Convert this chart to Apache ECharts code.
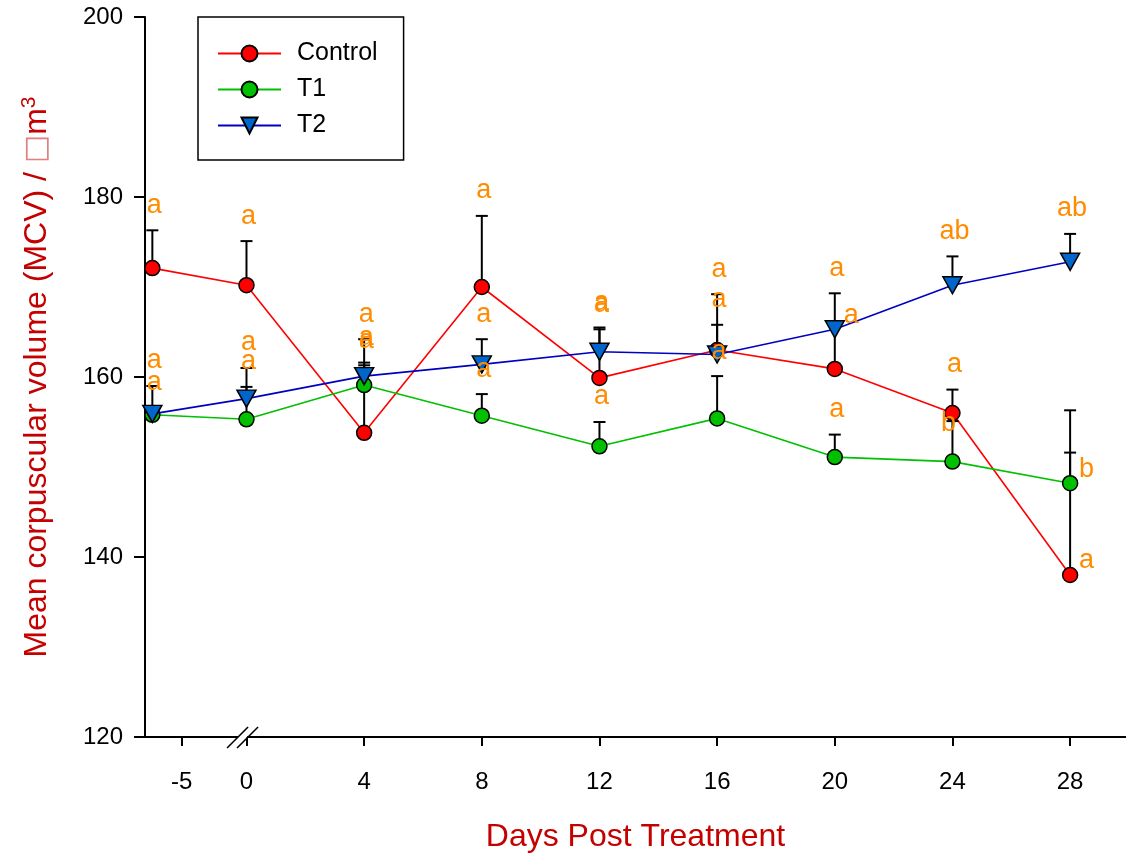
<!DOCTYPE html>
<html>
<head>
<meta charset="utf-8">
<script src="https://cdn.jsdelivr.net/npm/echarts@6/dist/echarts.min.js"></script>
<style>
html,body{margin:0;padding:0;background:#fff;}
#chart{width:1126px;height:858px;}
</style>
</head>
<body>
<div id="chart"></div>
<script>
// ---- data ----
const days = [-6, 0, 4, 8, 12, 16, 20, 24, 28];
const tickDays = [-5, 0, 4, 8, 12, 16, 20, 24, 28];
const tickLabels = ['-5', '0', '4', '8', '12', '16', '20', '24', '28'];
const yTicks = [120, 140, 160, 180, 200];

const control   = [172.1, 170.2, 153.8, 170.0, 159.9, 163.0, 160.9, 156.0, 138.0];
const controlSD = [4.2, 4.9, 7.8, 7.9, 5.6, 6.2, 8.4, 2.6, 18.3];
const t1        = [155.8, 155.3, 159.1, 155.7, 152.3, 155.4, 151.1, 150.6, 148.2];
const t1SD      = [0.8, 3.6, 5.1, 2.4, 2.7, 4.7, 2.5, 4.5, 3.4];
const t2        = [155.9, 157.6, 160.1, 161.4, 162.8, 162.5, 165.3, 170.2, 172.8];
const t2SD      = [3.1, 3.4, 1.2, 2.8, 2.5, 3.3, 0.8, 3.2, 3.1];

const controlLetters = ['a','a','a','a','a','a','a','a','a'];
const t1Letters      = ['a','a','a','a','a','a','a','b','b'];
const t2Letters      = ['a','a','a','a','a','a','a','ab','ab'];
const controlLetterPlace = ['top','top','top','top','top','top','top','top','right'];
const t1LetterPlace      = ['top','top','top','top','top','top','top','cap','right'];
const t2LetterPlace      = ['top','top','top','top','top','top','right','top','top'];

// ---- broken axis: days before 0 are shifted toward 0 ----
const BREAK_SHIFT = 2.8;
const dayPos = d => (d >= 0 ? d : d + BREAK_SHIFT);

const FONT = 'Liberation Sans, Arial, sans-serif';
const TITLE_RED = '#C40000';
const LETTER = '#FF8C00';

function lineSeries(name, vals, color, fill, symbol, z) {
  return {
    name, type: 'line', z,
    data: days.map((d, i) => [dayPos(d), vals[i]]),
    symbol, symbolSize: symbol === 'triangle' ? [19, 17] : 15,
    symbolRotate: symbol === 'triangle' ? 180 : 0,
    lineStyle: { color, width: 1.6 },
    itemStyle: { color: fill, borderColor: '#000', borderWidth: 1.5, opacity: 1 },
    emphasis: { disabled: true },
    animation: false
  };
}

function errorSeries(vals, sd, z) {
  return {
    type: 'custom', z, silent: true, animation: false,
    data: days.map((d, i) => [dayPos(d), vals[i], sd[i]]),
    encode: { x: 0, y: 1 },
    renderItem: function (params, api) {
      const p0 = api.coord([api.value(0), api.value(1)]);
      const p1 = api.coord([api.value(0), api.value(1) + api.value(2)]);
      const st = { stroke: '#000', lineWidth: 2 };
      return {
        type: 'group',
        children: [
          { type: 'line', shape: { x1: p0[0], y1: p0[1], x2: p1[0], y2: p1[1] }, style: st },
          { type: 'line', shape: { x1: p1[0] - 6, y1: p1[1], x2: p1[0] + 6, y2: p1[1] }, style: st }
        ]
      };
    }
  };
}

function letterSeries(vals, sd, letters, place) {
  return {
    type: 'custom', z: 20, silent: true, animation: false,
    data: days.map((d, i) => [dayPos(d), vals[i], sd[i]]),
    encode: { x: 0, y: 1 },
    renderItem: function (params, api) {
      const i = params.dataIndex;
      const p0 = api.coord([api.value(0), api.value(1)]);
      const p1 = api.coord([api.value(0), api.value(1) + api.value(2)]);
      let x, y, align;
      if (place[i] === 'right') { x = p0[0] + 9; y = p0[1] - 14; align = 'left'; }
      else if (place[i] === 'cap') { x = p0[0] - 4; y = p1[1] + 2; align = 'center'; }
      else { x = p0[0] + 2; y = p1[1] - 25; align = 'center'; }
      return {
        type: 'text',
        style: { x, y, text: letters[i], fill: LETTER, font: '27px ' + FONT, align, verticalAlign: 'middle' }
      };
    }
  };
}

const chart = echarts.init(document.getElementById('chart'), null, { renderer: 'canvas' });

const option = {
  backgroundColor: '#fff',
  animation: false,
  grid: { left: 145, right: 0, top: 17, bottom: 117, containLabel: false },
  legend: {
    orient: 'vertical', left: 198, top: 17,
    data: ['Control', 'T1', 'T2'],
    borderColor: '#000', borderWidth: 1.5,
    padding: [24, 26, 22, 19],
    itemGap: 11, itemWidth: 63, itemHeight: 20,
    textStyle: { fontSize: 25, fontFamily: FONT, color: '#000', padding: [0, 0, 0, 11] },
    selectedMode: false
  },
  xAxis: {
    type: 'value', min: -3.45, max: 29.9,
    axisLine: { onZero: false, lineStyle: { color: '#000', width: 2 } },
    axisTick: { show: true, length: 9, lineStyle: { color: '#000', width: 2 }, customValues: tickDays.map(dayPos) },
    axisLabel: {
      customValues: tickDays.map(dayPos),
      formatter: v => { const i = tickDays.map(dayPos).findIndex(p => Math.abs(p - v) < 1e-6); return i >= 0 ? tickLabels[i] : ''; },
      fontSize: 24, fontFamily: FONT, color: '#000', margin: 33
    },
    splitLine: { show: false },
    name: 'Days Post Treatment', nameLocation: 'middle', nameGap: 84,
    nameTextStyle: { fontSize: 32, fontFamily: FONT, color: TITLE_RED }
  },
  yAxis: {
    type: 'value', min: yTicks[0], max: yTicks[yTicks.length - 1], interval: 20,
    axisLine: { show: true, onZero: false, lineStyle: { color: '#000', width: 2 } },
    axisTick: { show: true, length: 11, lineStyle: { color: '#000', width: 2 } },
    axisLabel: { fontSize: 24, fontFamily: FONT, color: '#000', margin: 22 },
    splitLine: { show: false },
    name: 'Mean corpuscular volume (MCV) / {box|□}m{sup|3}',
    nameLocation: 'middle', nameRotate: 90, nameGap: 89,
    nameTextStyle: {
      fontSize: 32, fontFamily: FONT, color: TITLE_RED,
      rich: {
        box: { fontSize: 30, fontFamily: 'DejaVu Sans', color: '#E08080' },
        sup: { fontSize: 21, fontFamily: FONT, color: TITLE_RED, verticalAlign: 'top', padding: [0, 0, 16, 0] }
      }
    }
  },
  series: [
    errorSeries(control, controlSD, 2),
    lineSeries('Control', control, '#FF0000', '#FF0000', 'circle', 3),
    errorSeries(t1, t1SD, 4),
    lineSeries('T1', t1, '#00C000', '#00C000', 'circle', 5),
    errorSeries(t2, t2SD, 6),
    lineSeries('T2', t2, '#0000C0', '#0066CC', 'triangle', 7),
    letterSeries(control, controlSD, controlLetters, controlLetterPlace),
    letterSeries(t1, t1SD, t1Letters, t1LetterPlace),
    letterSeries(t2, t2SD, t2Letters, t2LetterPlace)
  ]
};
chart.setOption(option);

// axis break marker "//" placed through the library's own scale
const bx = chart.convertToPixel({ xAxisIndex: 0 }, -0.15);
const by = chart.convertToPixel({ yAxisIndex: 0 }, yTicks[0]);
chart.setOption({
  graphic: [
    { type: 'polygon', z: 50, shape: { points: [[bx - 10, by + 11], [bx + 1, by - 10], [bx + 10, by - 10], [bx - 1, by + 11]] }, style: { fill: '#fff' } },
    { type: 'line', z: 51, shape: { x1: bx - 15, y1: by + 11, x2: bx + 6, y2: by - 10 }, style: { stroke: '#000', lineWidth: 1.6 } },
    { type: 'line', z: 51, shape: { x1: bx - 5, y1: by + 11, x2: bx + 16, y2: by - 10 }, style: { stroke: '#000', lineWidth: 1.6 } }
  ]
});
</script>
</body>
</html>
